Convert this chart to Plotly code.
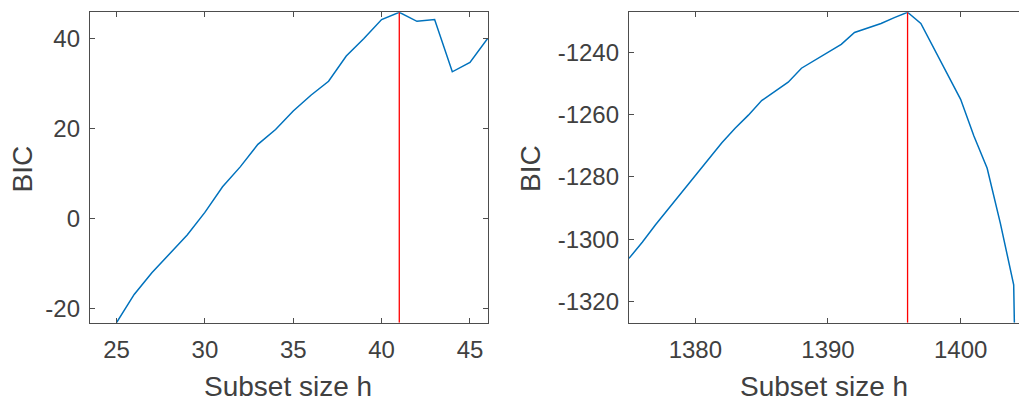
import plotly.graph_objects as go

# Left panel data
h_left = list(range(25, 47))
bic_left = [-23.07, -16.8, -12.0, -7.9, -3.6, 1.4, 7.1, 11.5, 16.5, 19.8, 23.9,
            27.4, 30.5, 36.1, 40.0, 44.2, 45.8, 43.8, 44.2, 32.6, 34.7, 40.0]
best_left = 41

# Right panel data
h_right = list(range(1375, 1405)) + [1404.05]
bic_right = [-1306.2, -1301.0, -1295.4, -1290.1, -1284.9, -1279.6, -1274.2, -1269.0,
             -1264.3, -1260.1, -1255.4, -1252.3, -1249.5, -1245.0, -1242.4, -1239.7,
             -1237.3, -1233.5, -1232.0, -1230.6, -1228.7, -1227.0, -1230.6, -1238.6,
             -1246.6, -1255.0, -1266.8, -1277.2, -1295.0, -1314.7, -1326.9]
best_right = 1396

left_xticks = [25, 30, 35, 40, 45]
left_yticks = [-20, 0, 20, 40]
right_xticks = [1380, 1390, 1400]
right_yticks = [-1320, -1300, -1280, -1260, -1240]

BLUE = "#0072BD"
RED = "#FF0000"
AX = "#4d4d4d"
TXT = "#404040"
FONT = "Liberation Sans"

W, H = 1019, 401
ytop, ybot = 12.3, 322.7
yd = [1 - ybot / H, 1 - ytop / H]

fig = go.Figure()
fig.add_trace(go.Scatter(x=h_left, y=bic_left, mode="lines",
                         line=dict(color=BLUE, width=1.5), xaxis="x", yaxis="y",
                         showlegend=False))
fig.add_trace(go.Scatter(x=[best_left, best_left], y=[min(bic_left), max(bic_left)],
                         mode="lines", line=dict(color=RED, width=1.3),
                         xaxis="x", yaxis="y", showlegend=False))
fig.add_trace(go.Scatter(x=h_right, y=bic_right, mode="lines",
                         line=dict(color=BLUE, width=1.5), xaxis="x2", yaxis="y2",
                         showlegend=False))
fig.add_trace(go.Scatter(x=[best_right, best_right], y=[min(bic_right), max(bic_right)],
                         mode="lines", line=dict(color=RED, width=1.3),
                         xaxis="x2", yaxis="y2", showlegend=False))

common = dict(showline=True, linecolor=AX, linewidth=1.3, ticks="inside", ticklen=5,
              tickcolor=AX, tickwidth=1.3, showgrid=False, zeroline=False,
              tickfont=dict(family=FONT, size=24, color=TXT))


def labels(vals):
    return [str(v) for v in vals]


fig.update_layout(
    width=W, height=H, margin=dict(l=0, r=0, t=0, b=0),
    paper_bgcolor="white", plot_bgcolor="white",
    xaxis=dict(domain=[90 / W, 488 / W], range=[23.5, 46.02], tickvals=left_xticks,
               ticktext=labels(left_xticks),
               anchor="y", mirror="allticks", ticklabelstandoff=5, **common),
    yaxis=dict(domain=yd, range=[min(bic_left), max(bic_left)], tickvals=left_yticks,
               ticktext=labels(left_yticks),
               anchor="x", mirror="allticks", ticklabelstandoff=4, **common),
    xaxis2=dict(domain=[629 / W, 1.0], range=[1375, 1404.4], tickvals=right_xticks,
                ticktext=labels(right_xticks),
                anchor="y2", mirror="allticks", ticklabelstandoff=5, **common),
    yaxis2=dict(domain=yd, range=[min(bic_right), max(bic_right)], tickvals=right_yticks,
                ticktext=labels(right_yticks),
                anchor="x2", mirror=False, ticklabelstandoff=4, **common),
)

lab = dict(family=FONT, size=28, color=TXT)
fig.add_annotation(text="Subset size h", x=288 / W, y=1 - 386 / H, xref="paper", yref="paper",
                   showarrow=False, font=lab, xanchor="center", yanchor="middle")
fig.add_annotation(text="Subset size h", x=824 / W, y=1 - 386 / H,
                   xref="paper", yref="paper", showarrow=False, font=lab,
                   xanchor="center", yanchor="middle")
fig.add_annotation(text="BIC", x=21.5 / W, y=1 - 169 / H, xref="paper", yref="paper",
                   showarrow=False, font=lab, textangle=-90, xanchor="center", yanchor="middle")
fig.add_annotation(text="BIC", x=530 / W, y=1 - 169 / H, xref="paper", yref="paper",
                   showarrow=False, font=lab, textangle=-90, xanchor="center", yanchor="middle")

fig.write_html("out.html", config={"displayModeBar": False},
               post_script="document.body.style.margin='0';document.body.style.overflow='hidden';")
